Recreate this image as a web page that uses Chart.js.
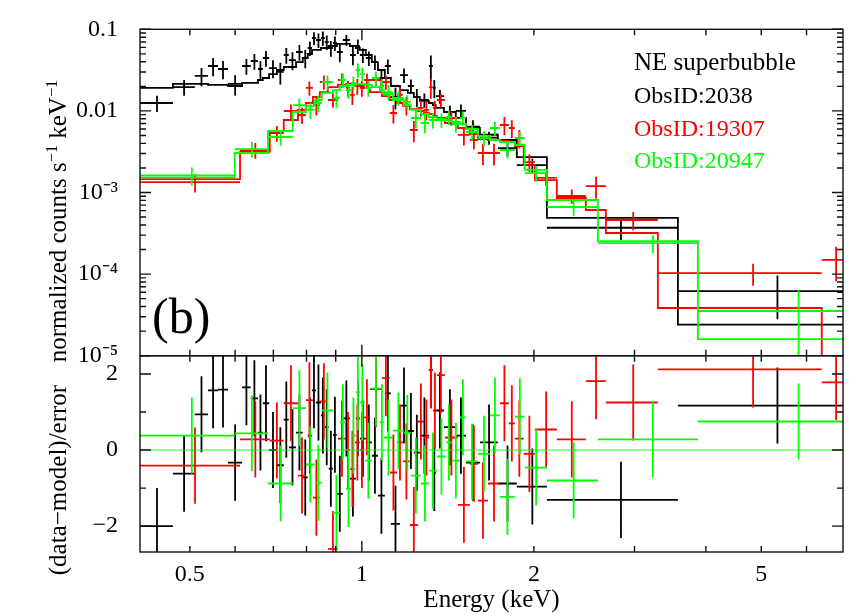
<!DOCTYPE html>
<html>
<head>
<meta charset="utf-8">
<script src="https://cdn.jsdelivr.net/npm/chart.js@4.4.1/dist/chart.umd.min.js"></script>
<style>
  body { margin: 0; background: #fff; }
  #wrap { position: relative; width: 853px; height: 615px; font-family: 'Liberation Serif', 'Times New Roman', serif; color: #000; }
  canvas { position: absolute; left: 0; top: 0; }
  .txt { position: absolute; white-space: nowrap; line-height: 1; }
  .ytitle { position: absolute; white-space: nowrap; line-height: 1; font-size: 25px; transform: translate(-50%, -50%) rotate(-90deg); }
  sup { font-size: 0.65em; vertical-align: 0.5em; line-height: 0; }
</style>
</head>
<body>
<div id="wrap">
  <canvas id="chart_top" width="853" height="615"></canvas>
  <canvas id="chart_res" width="853" height="615"></canvas>
  <div class="ytitle" style="left:57px; top:221px;">normalized counts s<sup>−1</sup> keV<sup>−1</sup></div>
  <div class="ytitle" style="left:57px; top:480px;">(data−model)/error</div>
  <div class="txt" style="left:634px; top:49px; font-size:25px;">NE superbubble</div>
  <div class="txt" style="left:634px; top:83px; font-size:24px;">ObsID:2038</div>
  <div class="txt" style="left:634px; top:116px; font-size:24px; color:#ff0000;">ObsID:19307</div>
  <div class="txt" style="left:634px; top:148px; font-size:24px; color:#00ff00;">ObsID:20947</div>
  <div class="txt" style="left:152px; top:291px; font-size:50px;">(b)</div>
</div>
<script>
const canvasTop = document.getElementById('chart_top');
const canvasRes = document.getElementById('chart_res');

/* AXES */
const E_MIN = 0.409, E_MAX = 6.95;
const E_TICKS = [0.5, 1, 2, 5];
const E_TICK_LABELS = ['0.5', '1', '2', '5'];
const FLUX_MIN = 1e-5, FLUX_MAX = 0.1;
const FLUX_TICKS = [1e-5, 1e-4, 1e-3, 0.01, 0.1];
const FLUX_TICK_LABELS = ['10⁻⁵', '10⁻⁴', '10⁻³', '0.01', '0.1'];
const RES_MIN = -2.68, RES_MAX = 2.48;
const RES_TICKS = [-2, 0, 2];
const RES_TICK_LABELS = ['−2', '0', '2'];

/* DATA: ObsID 2038 (black) */
const BLACK_EDGES = [0.409, 0.467, 0.510, 0.538, 0.560, 0.583, 0.617, 0.639, 0.658, 0.671, 0.688, 0.710, 0.730, 0.745, 0.767, 0.788, 0.804, 0.818, 0.831, 0.848, 0.861, 0.875, 0.890, 0.904, 0.926, 0.953, 0.976, 0.992, 1.016, 1.041, 1.067, 1.097, 1.124, 1.166, 1.204, 1.233, 1.263, 1.310, 1.331, 1.347, 1.392, 1.460, 1.521, 1.609, 1.730, 1.867, 2.108, 3.573, 7.10];
const BLACK_FLUX = [0.0125, 0.0196, 0.0268, 0.0355, 0.0326, 0.0214, 0.0355, 0.0409, 0.0326, 0.0445, 0.0335, 0.0300, 0.0484, 0.0420, 0.0527, 0.0445, 0.0590, 0.0782, 0.0739, 0.0782, 0.0699, 0.0590, 0.0679, 0.0527, 0.0739, 0.0484, 0.0624, 0.0484, 0.0445, 0.0397, 0.0253, 0.0355, 0.0148, 0.0275, 0.0202, 0.0148, 0.0136, 0.0355, 0.0191, 0.0152, 0.0097, 0.0100, 0.0064, 0.0047, 0.0035, 0.00217, 0.00037, 0.000062];
const BLACK_ERR = [0.0028, 0.0043, 0.0067, 0.0089, 0.0082, 0.0060, 0.0078, 0.0090, 0.0082, 0.0098, 0.0084, 0.0090, 0.0106, 0.0105, 0.0116, 0.0111, 0.0118, 0.0141, 0.0148, 0.0156, 0.0140, 0.0130, 0.0136, 0.0132, 0.0111, 0.0121, 0.0125, 0.0097, 0.0089, 0.0079, 0.0063, 0.0071, 0.0044, 0.0055, 0.0040, 0.0037, 0.0027, 0.0124, 0.0048, 0.0030, 0.0019, 0.0020, 0.0013, 0.00085, 0.0007, 0.00043, 0.00011, 0.000034];
const BLACK_MODEL = [0.0191, 0.0214, 0.0214, 0.0208, 0.0208, 0.0202, 0.0220, 0.0220, 0.0239, 0.0253, 0.0283, 0.0317, 0.0345, 0.0345, 0.0397, 0.0445, 0.0498, 0.0558, 0.0558, 0.0590, 0.0590, 0.0624, 0.0624, 0.0661, 0.0661, 0.0624, 0.0590, 0.0558, 0.0484, 0.0397, 0.0317, 0.0253, 0.0202, 0.0180, 0.0166, 0.0148, 0.0133, 0.0125, 0.0118, 0.0109, 0.0097, 0.0082, 0.0062, 0.0051, 0.0044, 0.00272, 0.00049, 0.000024];
const BLACK_RESID = [-2.0, -0.62, 0.94, 1.57, 1.59, -0.33, 1.65, 1.36, 0.46, 1.23, 0.0, -0.4, 0.8, 0.07, 0.46, -0.72, 0.38, 1.57, 1.25, 0.91, 0.6, -0.49, 0.4, -1.15, 0.83, -0.75, 0.83, 0.3, 0.2, -0.15, -1.2, 1.49, -1.94, 1.17, 0.5, -0.07, 0.38, 2.1, -0.6, 1.04, 0.6, 0.38, -0.33, 0.2, -0.88, -0.96, -1.31, 1.17];

/* DATA: ObsID 19307 (red) */
const RED_EDGES = [0.409, 0.612, 0.690, 0.730, 0.773, 0.798, 0.821, 0.844, 0.872, 0.908, 0.938, 0.953, 0.972, 0.992, 1.008, 1.033, 1.084, 1.119, 1.152, 1.180, 1.213, 1.253, 1.284, 1.310, 1.331, 1.353, 1.397, 1.472, 1.545, 1.596, 1.662, 1.744, 1.808, 1.852, 1.920, 2.008, 2.194, 2.466, 2.673, 3.296, 6.38, 7.14];
const RED_FLUX = [0.00134, 0.00332, 0.00536, 0.00997, 0.00891, 0.0191, 0.0118, 0.0226, 0.0136, 0.0239, 0.0191, 0.0157, 0.0202, 0.0191, 0.0239, 0.0239, 0.0226, 0.00943, 0.0157, 0.0118, 0.00583, 0.0109, 0.0103, 0.0196, 0.0109, 0.0136, 0.00818, 0.00507, 0.00440, 0.00305, 0.00305, 0.00672, 0.00617, 0.00465, 0.00236, 0.00151, 0.000906, 0.00120, 0.000460, 0.000103, 0.000149];
const RED_ERR = [0.00034, 0.00073, 0.00118, 0.0020, 0.0020, 0.0038, 0.0030, 0.0045, 0.0027, 0.0048, 0.0042, 0.0039, 0.0044, 0.0042, 0.0048, 0.0036, 0.0045, 0.0024, 0.0035, 0.0030, 0.0017, 0.0024, 0.0026, 0.0055, 0.0024, 0.0027, 0.0016, 0.0013, 0.0010, 0.0009, 0.0009, 0.0017, 0.0015, 0.0012, 0.00059, 0.00030, 0.00018, 0.00036, 0.000115, 0.000031, 0.000067];
const RED_MODEL = [0.00146, 0.00314, 0.00567, 0.00773, 0.0103, 0.0125, 0.0148, 0.0170, 0.0196, 0.0208, 0.0214, 0.0214, 0.0208, 0.0202, 0.0191, 0.0170, 0.0152, 0.0136, 0.0125, 0.0115, 0.0105, 0.00997, 0.00943, 0.00916, 0.00866, 0.00818, 0.00711, 0.00617, 0.00521, 0.00452, 0.00440, 0.00428, 0.00416, 0.00371, 0.00217, 0.00142, 0.000856, 0.000610, 0.000319, 0.0000384, 0.0000050];
const RED_RESID = [-0.41, 0.28, 0.25, 1.23, -0.67, 1.31, -1.25, 1.28, -2.6, 0.3, 0.0, -0.5, 0.2, 0.0, 0.86, 1.6, 1.89, -0.59, 0.2, -0.3, -1.97, 0.75, 0.33, 2.1, 1.04, 1.97, 0.33, -1.44, -0.36, -1.33, -0.88, 1.23, 0.7, 0.3, -0.1, 0.54, 0.28, 1.81, 1.25, 2.12, 1.78];

/* DATA: ObsID 20947 (green) */
const GREEN_EDGES = [0.409, 0.599, 0.685, 0.757, 0.798, 0.827, 0.851, 0.890, 0.915, 0.938, 0.957, 0.976, 0.992, 1.012, 1.041, 1.075, 1.093, 1.133, 1.184, 1.218, 1.268, 1.310, 1.353, 1.403, 1.437, 1.484, 1.521, 1.596, 1.675, 1.744, 1.852, 1.928, 2.108, 2.588, 3.873, 7.75];
const GREEN_FLUX = [0.00162, 0.00341, 0.00479, 0.0118, 0.0103, 0.0125, 0.0226, 0.0144, 0.0239, 0.0180, 0.0220, 0.0317, 0.0283, 0.0191, 0.0253, 0.0202, 0.0170, 0.0144, 0.0129, 0.00818, 0.00711, 0.00773, 0.00773, 0.00842, 0.00691, 0.00818, 0.00551, 0.00465, 0.00617, 0.00332, 0.00465, 0.00173, 0.000664, 0.000240, 0.0000353];
const GREEN_ERR = [0.00040, 0.00075, 0.00105, 0.0024, 0.0023, 0.0028, 0.0045, 0.0036, 0.0048, 0.0040, 0.0044, 0.0063, 0.0057, 0.0042, 0.0051, 0.0040, 0.0037, 0.0029, 0.0026, 0.0020, 0.0018, 0.0017, 0.0015, 0.0017, 0.0015, 0.0016, 0.0012, 0.0010, 0.0012, 0.00073, 0.00093, 0.00038, 0.000146, 0.00006, 0.000028];
const GREEN_MODEL = [0.00153, 0.00305, 0.00567, 0.00970, 0.0115, 0.0136, 0.0166, 0.0180, 0.0202, 0.0208, 0.0208, 0.0214, 0.0214, 0.0208, 0.0196, 0.0180, 0.0161, 0.0136, 0.0118, 0.0103, 0.00916, 0.00842, 0.00796, 0.00773, 0.00731, 0.00691, 0.00600, 0.00493, 0.00440, 0.00416, 0.00382, 0.00189, 0.000809, 0.000254, 0.0000160];
const GREEN_RESID = [0.38, 0.44, -0.88, 1.1, -0.38, -0.86, 1.04, -1.65, 0.73, -1.02, 0.38, 1.52, 1.25, -0.28, 1.62, 0.73, 0.33, 0.51, 0.45, -0.67, -0.88, -0.54, -0.17, 0.2, -0.28, 0.86, -0.3, -0.1, 0.91, -1.23, 0.88, -0.46, -0.8, 0.28, 0.75];

/* STYLE */
const BLACK = '#000000';
const RED = '#ff0000';
const GREEN = '#00ff00';
const ZERO_COLOR = 'rgba(0,255,0,0.5)';
const LINE_W = 1.8;
const FONT = 'Liberation Serif';

/* DATA STRUCTURE */
// one line dataset per series: each bin is a horizontal bar + a vertical bar, broken by nulls
const GET_CROSSES = (edges, vals, errs, color) => {
    const pts = [];
    vals.forEach((v, i) => {
        const lo = edges[i], hi = edges[i + 1], c = (lo + hi) / 2;
        const e = errs ? errs[i] : 1;
        pts.push({x: lo, y: v}, {x: hi, y: v}, {x: c, y: null},
                 {x: c, y: v - e}, {x: c, y: v + e}, {x: c, y: null});
    });
    return {data: pts, borderColor: color, borderWidth: LINE_W, pointRadius: 0, spanGaps: false, tension: 0};
};

// histogram model: level i holds from edges[i] to edges[i+1]
const GET_MODEL = (edges, model, color) => {
    const pts = model.map((m, i) => ({x: edges[i], y: m}));
    pts.push({x: edges[model.length], y: model[model.length - 1]});
    return {data: pts, borderColor: color, borderWidth: LINE_W, pointRadius: 0, stepped: 'before'};
};

/* frame with inward ticks on all four sides */
const framePlugin = {
    id: 'frame',
    afterDraw(chart, args, opts) {
        const {ctx, chartArea: a, scales} = chart;
        ctx.save();
        ctx.strokeStyle = '#111';
        ctx.lineWidth = 1.4;
        ctx.beginPath();
        const xTick = (v, len) => {
            const p = scales.x.getPixelForValue(v);
            ctx.moveTo(p, a.top); ctx.lineTo(p, a.top + len);
            ctx.moveTo(p, a.bottom); ctx.lineTo(p, a.bottom - len);
        };
        const yTick = (v, len) => {
            const p = scales.y.getPixelForValue(v);
            ctx.moveTo(a.left, p); ctx.lineTo(a.left + len, p);
            ctx.moveTo(a.right, p); ctx.lineTo(a.right - len, p);
        };
        opts.xMajor.forEach(v => xTick(v, 11));
        opts.xMinor.forEach(v => xTick(v, 6));
        opts.yMajor.forEach(v => yTick(v, 11));
        opts.yMinor.forEach(v => yTick(v, 6));
        ctx.stroke();
        ctx.strokeRect(a.left, a.top, a.right - a.left, a.bottom - a.top);
        ctx.restore();
    }
};

const X_MAJOR = [1];
const X_MINOR = [0.5, 0.6, 0.7, 0.8, 0.9, 2, 3, 4, 5, 6];
const FLUX_MINOR = [];
[1e-5, 1e-4, 1e-3, 1e-2].forEach(d => { for (let k = 2; k <= 9; k++) FLUX_MINOR.push(d * k); });

const TICK_FONT = {family: FONT, size: 24};

// fixed axis box sizes, no extra room for overhanging labels
const fixWidth = (w) => (s) => { s.width = w; s.paddingTop = 0; s.paddingBottom = 0; };
const fixHeight = (h) => (s) => { s.height = h; s.paddingLeft = 0; s.paddingRight = 0; };

/* Spectrum panel */
var chartTop = new Chart(canvasTop, {
    type: 'line',
    data: {
        datasets: [
            GET_MODEL(GREEN_EDGES, GREEN_MODEL, GREEN),
            GET_CROSSES(GREEN_EDGES, GREEN_FLUX, GREEN_ERR, GREEN),
            GET_MODEL(RED_EDGES, RED_MODEL, RED),
            GET_CROSSES(RED_EDGES, RED_FLUX, RED_ERR, RED),
            GET_MODEL(BLACK_EDGES, BLACK_MODEL, BLACK),
            GET_CROSSES(BLACK_EDGES, BLACK_FLUX, BLACK_ERR, BLACK)
        ]
    },
    options: {
        responsive: false,
        animation: false,
        events: [],
        layout: {padding: {top: 29.3, bottom: 259.3, left: 0, right: 10}},
        plugins: {
            legend: {display: false},
            tooltip: {enabled: false},
            frame: {xMajor: X_MAJOR, xMinor: X_MINOR, yMajor: FLUX_TICKS, yMinor: FLUX_MINOR}
        },
        scales: {
            x: {type: 'logarithmic', min: E_MIN, max: E_MAX, display: false},
            y: {
                type: 'logarithmic', min: FLUX_MIN, max: FLUX_MAX,
                grid: {display: false}, border: {display: false},
                afterFit: fixWidth(140),
                afterBuildTicks: (s) => { s.ticks = FLUX_TICKS.map(v => ({value: v})); },
                ticks: {autoSkip: false, padding: 14, color: '#000', font: TICK_FONT,
                        callback: (v, i) => FLUX_TICK_LABELS[i]}
            }
        }
    },
    plugins: [framePlugin]
});

/* Residual panel */
var chartRes = new Chart(canvasRes, {
    type: 'line',
    data: {
        datasets: [
            {data: [{x: 0.3, y: 0}, {x: 10, y: 0}], borderColor: ZERO_COLOR, borderWidth: LINE_W, pointRadius: 0},
            GET_CROSSES(GREEN_EDGES, GREEN_RESID, null, GREEN),
            GET_CROSSES(RED_EDGES, RED_RESID, null, RED),
            GET_CROSSES(BLACK_EDGES, BLACK_RESID, null, BLACK)
        ]
    },
    options: {
        responsive: false,
        animation: false,
        events: [],
        layout: {padding: {top: 355.7, bottom: 0, left: 0, right: 10}},
        plugins: {
            legend: {display: false},
            tooltip: {enabled: false},
            frame: {xMajor: X_MAJOR, xMinor: X_MINOR, yMajor: RES_TICKS, yMinor: [-1, 1]}
        },
        scales: {
            x: {
                type: 'logarithmic', min: E_MIN, max: E_MAX,
                grid: {display: false}, border: {display: false},
                afterFit: fixHeight(63),
                afterBuildTicks: (s) => { s.ticks = E_TICKS.map(v => ({value: v})); },
                ticks: {autoSkip: false, maxRotation: 0, padding: 0, color: '#000', font: TICK_FONT,
                        callback: (v, i) => E_TICK_LABELS[i]},
                title: {display: true, text: 'Energy (keV)', color: '#000', font: {family: FONT, size: 25},
                        padding: {top: 0, bottom: 0}}
            },
            y: {
                type: 'linear', min: RES_MIN, max: RES_MAX,
                grid: {display: false}, border: {display: false},
                afterFit: fixWidth(140),
                afterBuildTicks: (s) => { s.ticks = RES_TICKS.map(v => ({value: v})); },
                ticks: {autoSkip: false, padding: 14, color: '#000', font: TICK_FONT,
                        callback: (v, i) => RES_TICK_LABELS[i]}
            }
        }
    },
    plugins: [framePlugin]
});
</script>
</body>
</html>
